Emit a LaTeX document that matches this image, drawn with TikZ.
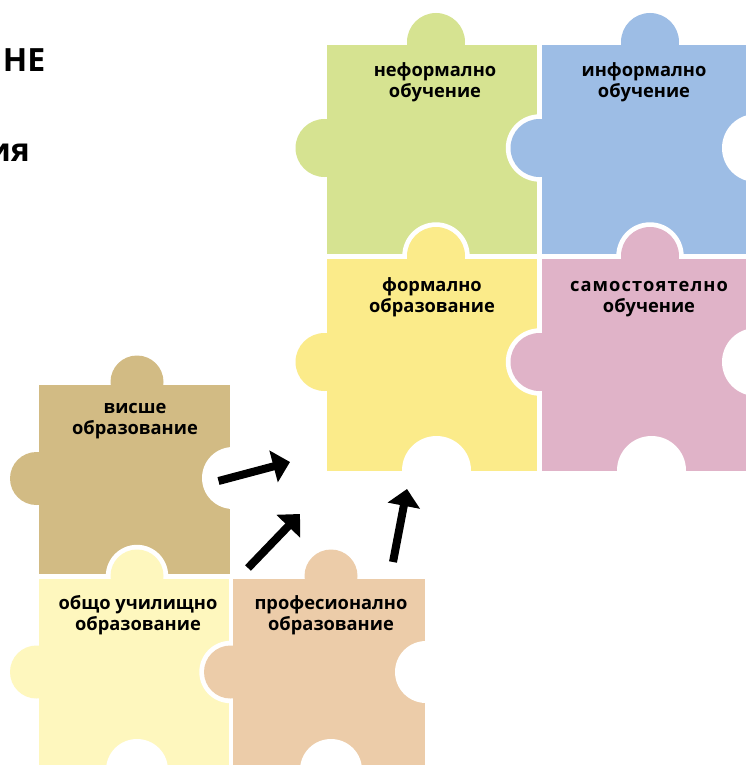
\documentclass[tikz,border=0pt]{standalone}
\usepackage{fontspec}
\setmainfont{Open Sans}
\usetikzlibrary{arrows.meta}
\definecolor{cgreen}{HTML}{D6E391}
\definecolor{cblue}{HTML}{9DBDE5}
\definecolor{cyel}{HTML}{FBEB8A}
\definecolor{cpink}{HTML}{E0B3C8}
\definecolor{ctan}{HTML}{D2BB84}
\definecolor{ccream}{HTML}{FEF7BE}
\definecolor{corange}{HTML}{ECCCA9}
\newcommand{\lblstrut}{\rule{0pt}{20pt}}
\tikzset{
  lbl/.style={font=\fontsize{18.3}{21.4}\selectfont\bfseries, align=center, anchor=north, inner sep=0pt, text=black},
  head/.style={font=\fontsize{32}{36}\selectfont\bfseries, anchor=base east, inner sep=0pt, text=black},
  arr/.style={draw=black, line width=8pt, -{Triangle[length=17pt,width=32pt]}},
}
\newcommand{\puzzlepiece}[8]{%
  \fill[white] (#6,#2-3) circle[radius=#8+4.7];
  \fill[white] (#1-2.5,#7) circle[radius=#8+4.7];
  \fill[#5] (#1,#2) rectangle (#3,#4);
  \fill[#5] (#6,#2-3) circle[radius=#8];
  \fill[#5] (#1-2.5,#7) circle[radius=#8];
}
\begin{document}
\begin{tikzpicture}[x=1pt,y=-1pt]
\useasboundingbox (0,0) rectangle (745,765);
\fill[white] (0,0) rectangle (745,765);
% upper group
\puzzlepiece{327}{45}{537}{254}{cgreen}{436}{148}{29}
\puzzlepiece{542}{45}{760}{254}{cblue}{650}{148}{29}
\puzzlepiece{327}{259}{537}{471}{cyel}{436}{362}{29}
\puzzlepiece{542}{259}{760}{471}{cpink}{650}{362}{29}
\fill[white] (756,148) circle[radius=34];
\fill[white] (756,362) circle[radius=34];
\fill[white] (436.5,470.5) circle[radius=34.5];
\fill[white] (651.5,470.5) circle[radius=34.5];
% lower group
\puzzlepiece{39}{385}{230}{574}{ctan}{137}{478.5}{26.5}
\fill[white] (233,478) circle[radius=31];
\puzzlepiece{39}{579}{228.5}{780}{ccream}{137}{672}{26.5}
\puzzlepiece{233}{579}{425}{780}{corange}{331}{672}{26.5}
\fill[white] (426,672) circle[radius=31];
\fill[white] (137,770) circle[radius=31];
\fill[white] (331,770) circle[radius=31];
% labels
\node[lbl] (lneform) at (435,56) {\lblstrut неформално\\обучение};
\node[lbl] (linform) at (644,56) {\lblstrut информално\\обучение};
\node[lbl] (lform) at (432,271) {\lblstrut формално\\образование};
\node[lbl] (lsam) at (649,271) {\lblstrut {\addfontfeature{LetterSpace=6}самостоятелно}\\обучение};
\node[lbl] (lvis) at (135,393) {\lblstrut висше\\образование};
\node[lbl] (lobsht) at (138,589) {\lblstrut общо училищно\\образование};
\node[lbl] (lprof) at (331,589) {\lblstrut професионално\\образование};
% clipped side text
\node[head] (tne) at (45.5,72) {НЕ};
\node[head] (tia) at (30,161) {ия};
% arrows
\coordinate (a1s) at (218.5,481);
\coordinate (a1e) at (290,462);
\coordinate (a2s) at (248,568);
\coordinate (a2e) at (300,514);
\coordinate (a3s) at (393,562);
\coordinate (a3e) at (407,489);
\draw[arr] (a1s) -- (a1e);
\draw[arr] (a2s) -- (a2e);
\draw[arr] (a3s) -- (a3e);
\end{tikzpicture}
\end{document}
